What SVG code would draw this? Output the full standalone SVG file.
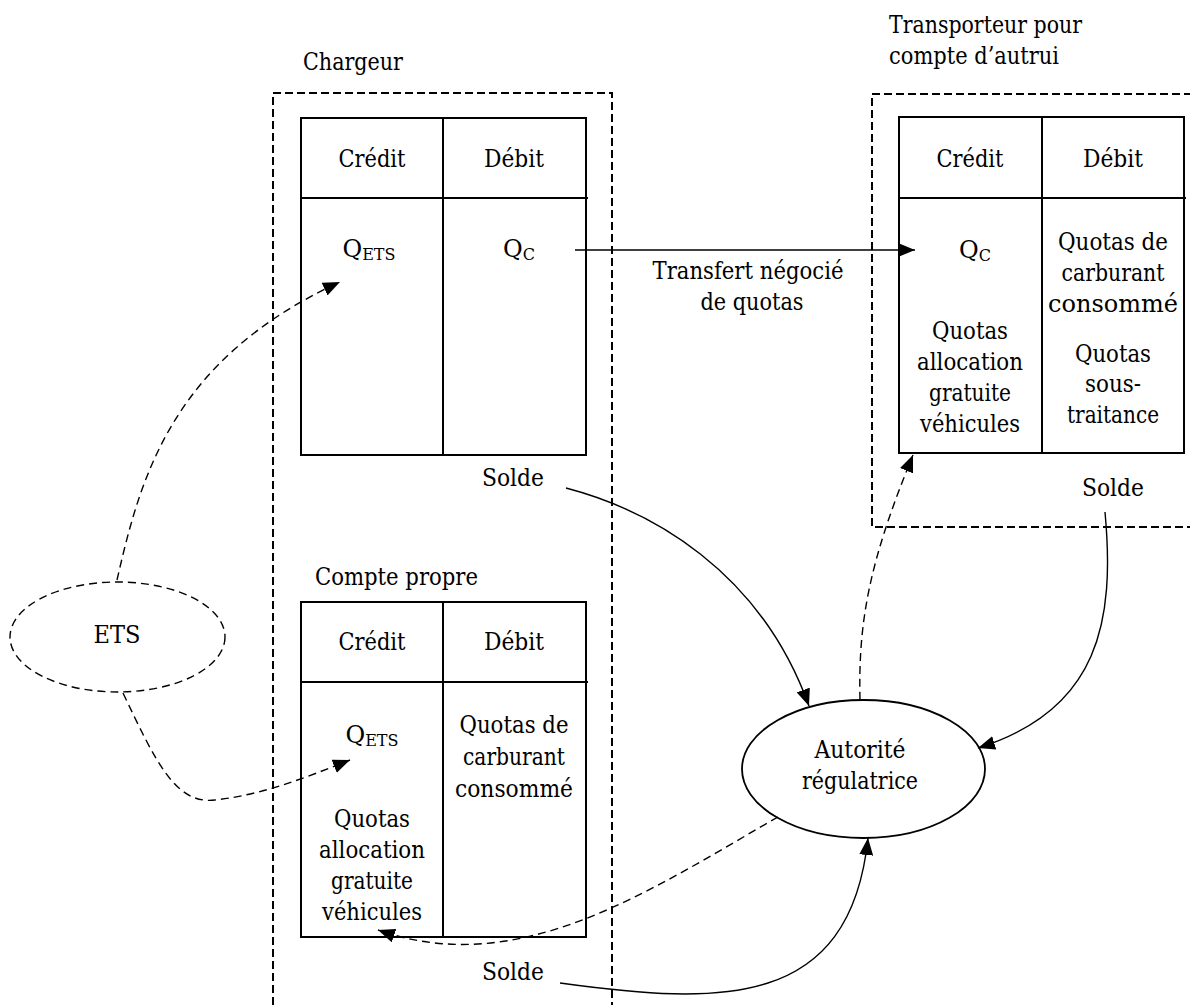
<svg xmlns="http://www.w3.org/2000/svg" width="1190" height="1005" viewBox="0 0 1190 1005">
<style>
text{font-family:'DejaVu Serif','Liberation Serif',serif;font-size:24px;fill:#000}
.c{text-anchor:middle}
.sub{font-size:16px}
.tbl{fill:none;stroke:#000;stroke-width:2}
.grp{fill:none;stroke:#000;stroke-width:2;stroke-dasharray:8,4}
.ln{fill:none;stroke:#000;stroke-width:1.4}
.dl{fill:none;stroke:#000;stroke-width:1.4;stroke-dasharray:8,5}
</style>
<defs>
<marker id="ah" viewBox="0 0 17 14" refX="17" refY="7" markerWidth="17" markerHeight="14" orient="auto" markerUnits="userSpaceOnUse">
<path d="M0,0 L17,7 L0,14 z" fill="#000"/>
</marker>
</defs>
<rect width="1190" height="1005" fill="#fff"/>

<g id="chargeur">
<path class="grp" d="M273,1005 V93 H612 V1005"/>
<text x="303" y="70" textLength="100" lengthAdjust="spacingAndGlyphs">Chargeur</text>
</g>

<g id="transporteur">
<path class="grp" d="M1192,94 H872 V527 H1192"/>
<text x="889" y="33" textLength="193" lengthAdjust="spacingAndGlyphs">Transporteur pour</text>
<text x="889" y="64" textLength="170" lengthAdjust="spacingAndGlyphs">compte d’autrui</text>
</g>

<g id="table-chargeur">
<rect class="tbl" x="301" y="118" width="285" height="337"/>
<line class="tbl" x1="443" y1="118" x2="443" y2="455"/>
<line class="tbl" x1="301" y1="198" x2="588" y2="198"/>
<text class="c" x="372" y="167" textLength="67" lengthAdjust="spacingAndGlyphs">Crédit</text>
<text class="c" x="514" y="167" textLength="60" lengthAdjust="spacingAndGlyphs">Débit</text>
<text class="c" x="369" y="257">Q<tspan class="sub" dy="3">ETS</tspan></text>
<text class="c" x="519" y="257">Q<tspan class="sub" dy="3">C</tspan></text>
<text class="c" x="513" y="486" textLength="62" lengthAdjust="spacingAndGlyphs">Solde</text>
</g>

<g id="table-transporteur">
<rect class="tbl" x="899" y="117" width="285" height="336"/>
<line class="tbl" x1="1042" y1="117" x2="1042" y2="453"/>
<line class="tbl" x1="899" y1="198" x2="1186" y2="198"/>
<text class="c" x="970" y="167" textLength="67" lengthAdjust="spacingAndGlyphs">Crédit</text>
<text class="c" x="1113" y="167" textLength="60" lengthAdjust="spacingAndGlyphs">Débit</text>
<text class="c" x="975" y="258">Q<tspan class="sub" dy="3">C</tspan></text>
<text class="c" x="970" y="339" textLength="76" lengthAdjust="spacingAndGlyphs">Quotas</text>
<text class="c" x="970" y="370" textLength="106" lengthAdjust="spacingAndGlyphs">allocation</text>
<text class="c" x="970" y="401" textLength="82" lengthAdjust="spacingAndGlyphs">gratuite</text>
<text class="c" x="970" y="432" textLength="100" lengthAdjust="spacingAndGlyphs">véhicules</text>
<text class="c" x="1113" y="250" textLength="110" lengthAdjust="spacingAndGlyphs">Quotas de</text>
<text class="c" x="1113" y="281" textLength="103" lengthAdjust="spacingAndGlyphs">carburant</text>
<text class="c" x="1113" y="312" textLength="130" lengthAdjust="spacingAndGlyphs">consommé</text>
<text class="c" x="1113" y="362" textLength="76" lengthAdjust="spacingAndGlyphs">Quotas</text>
<text class="c" x="1113" y="392" textLength="56" lengthAdjust="spacingAndGlyphs">sous-</text>
<text class="c" x="1113" y="423" textLength="92" lengthAdjust="spacingAndGlyphs">traitance</text>
<text class="c" x="1113" y="496" textLength="62" lengthAdjust="spacingAndGlyphs">Solde</text>
</g>

<g id="table-compte-propre">
<text x="315" y="585" textLength="163" lengthAdjust="spacingAndGlyphs">Compte propre</text>
<rect class="tbl" x="301" y="602" width="285" height="335"/>
<line class="tbl" x1="443" y1="602" x2="443" y2="937"/>
<line class="tbl" x1="301" y1="682" x2="588" y2="682"/>
<text class="c" x="372" y="650" textLength="67" lengthAdjust="spacingAndGlyphs">Crédit</text>
<text class="c" x="514" y="650" textLength="60" lengthAdjust="spacingAndGlyphs">Débit</text>
<text class="c" x="372" y="743">Q<tspan class="sub" dy="3">ETS</tspan></text>
<text class="c" x="372" y="827" textLength="76" lengthAdjust="spacingAndGlyphs">Quotas</text>
<text class="c" x="372" y="858" textLength="106" lengthAdjust="spacingAndGlyphs">allocation</text>
<text class="c" x="372" y="889" textLength="82" lengthAdjust="spacingAndGlyphs">gratuite</text>
<text class="c" x="372" y="920" textLength="100" lengthAdjust="spacingAndGlyphs">véhicules</text>
<text class="c" x="514" y="733" textLength="109" lengthAdjust="spacingAndGlyphs">Quotas de</text>
<text class="c" x="514" y="765" textLength="102" lengthAdjust="spacingAndGlyphs">carburant</text>
<text class="c" x="514" y="797" textLength="118" lengthAdjust="spacingAndGlyphs">consommé</text>
<text class="c" x="513" y="980" textLength="62" lengthAdjust="spacingAndGlyphs">Solde</text>
</g>

<g id="ets">
<ellipse cx="117.5" cy="637" rx="107.5" ry="55" fill="none" stroke="#000" stroke-width="1.4" stroke-dasharray="8,5"/>
<text class="c" x="117" y="643" textLength="47" lengthAdjust="spacingAndGlyphs">ETS</text>
</g>

<g id="autorite">
<ellipse cx="863.5" cy="769" rx="121.5" ry="69" fill="none" stroke="#000" stroke-width="1.8"/>
<text class="c" x="860" y="758" textLength="91" lengthAdjust="spacingAndGlyphs">Autorité</text>
<text class="c" x="860" y="789" textLength="116" lengthAdjust="spacingAndGlyphs">régulatrice</text>
</g>

<g id="connectors">
<line class="ln" x1="575" y1="250" x2="915" y2="250" marker-end="url(#ah)"/>
<text class="c" x="748" y="279" textLength="191" lengthAdjust="spacingAndGlyphs">Transfert négocié</text>
<text class="c" x="752" y="310" textLength="103" lengthAdjust="spacingAndGlyphs">de quotas</text>
<path class="ln" d="M566,488 C650,510 760,570 809,706" marker-end="url(#ah)"/>
<path class="ln" d="M1105,512 C1115,620 1100,710 978,748" marker-end="url(#ah)"/>
<path class="ln" d="M560,983 C720,1005 850,1010 868,838" marker-end="url(#ah)"/>
<path class="dl" d="M860,700 C858,620 870,560 913,455" marker-end="url(#ah)"/>
<path class="dl" d="M778,817 C650,890 520,980 378,930" marker-end="url(#ah)"/>
<path class="dl" d="M117,580 C140,480 170,360 340,282" marker-end="url(#ah)"/>
<path class="dl" d="M123,693 C155,760 175,805 215,800 C260,795 300,780 350,760" marker-end="url(#ah)"/>
</g>
</svg>
